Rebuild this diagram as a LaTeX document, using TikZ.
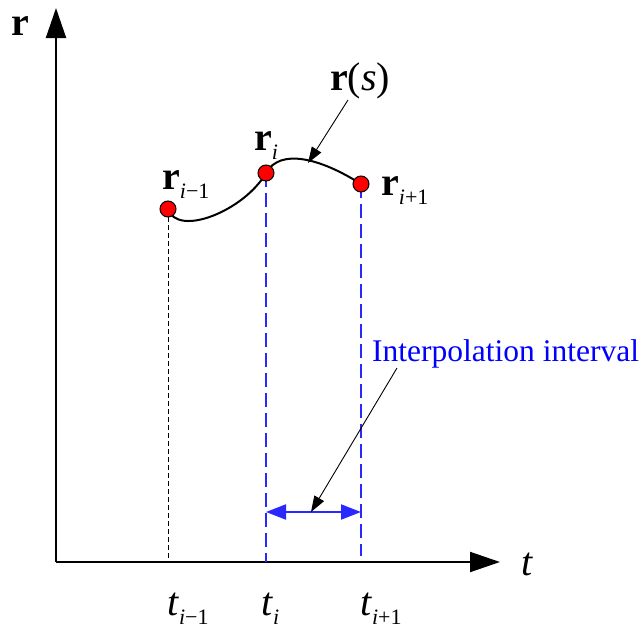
\documentclass[tikz,border=0pt]{standalone}
\usepackage{fontspec}
\setmainfont{Liberation Serif}
\usetikzlibrary{arrows.meta}
\definecolor{lineblue}{RGB}{40,40,255}
\definecolor{textblue}{RGB}{0,0,255}
\newcommand\mysub[1]{\raisebox{-0.24em}{\fontsize{22}{22}\selectfont #1}}
\begin{document}
\begin{tikzpicture}[x=1pt,y=-1pt,
  lbl/.style={inner sep=0pt,anchor=base west,font=\fontsize{40}{40}\selectfont},
  axis/.style={line width=2pt,-{Triangle[length=30pt,width=20pt]}},
  dot/.style={circle,fill=red,draw=black,line width=1pt,minimum size=16pt,inner sep=0pt},
  thinarrow/.style={line width=0.9pt,-{Triangle[length=16pt,width=11pt]}},
  bluedash/.style={lineblue,line width=2pt,dash pattern=on 14pt off 6pt},
  interval/.style={lineblue,line width=2pt,{Triangle[length=20pt,width=15pt]}-{Triangle[length=20pt,width=15pt]}}]
\useasboundingbox (0,0) rectangle (641,632);
% axes
\coordinate (O) at (56,562);
\coordinate (Ytop) at (56,8);
\coordinate (Xend) at (500,562);
\draw[axis] (O) -- (Ytop);
\draw[axis] (O) -- (Xend);
% points
\coordinate (p1) at (168,209);
\coordinate (p2) at (266,173);
\coordinate (p3) at (361,184);
% projection lines
\coordinate (b1) at (168,562);
\coordinate (b2) at (266,562);
\coordinate (b3) at (361,556);
\draw[black,line width=0.7pt,dash pattern=on 5pt off 3pt] (p1) -- (b1);
\draw[bluedash] (p2) -- (b2);
\draw[bluedash] (p3) -- (b3);
% curve
\draw[line width=2pt] (p1) .. controls (178,238) and (245,210) .. (p2)
   .. controls (280,148) and (320,158) .. (p3);
\node[dot] (d1) at (p1) {};
\node[dot] (d2) at (p2) {};
\node[dot] (d3) at (p3) {};
% interval arrow
\coordinate (i1) at (266,512);
\coordinate (i2) at (361,512);
\draw[interval] (i1) -- (i2);
\coordinate (imid) at (311,512);
% labels
\node[lbl] (rax) at (11,35) {\textbf{r}};
\node[lbl] (tax) at (521,575) {\textit{t}};
\node[lbl] (rs) at (330,90) {\textbf{r}(\textit{s})};
\node[lbl] (ri) at (254,150) {\textbf{r}\mysub{\textit{i}}};
\node[lbl] (rim) at (162,189) {\textbf{r}\mysub{\textit{i}−1}};
\node[lbl] (rip) at (381,195) {\textbf{r}\mysub{\textit{i}+1}};
\node[lbl] (tim) at (167,615) {\textit{t}\mysub{\textit{i}−1}};
\node[lbl] (ti) at (261,615) {\textit{t}\mysub{\textit{i}}};
\node[lbl] (tip) at (360,615) {\textit{t}\mysub{\textit{i}+1}};
\node[inner sep=0pt,anchor=base west,text=textblue,font=\fontsize{31.5}{31.5}\selectfont] (intlbl) at (372,361) {Interpolation interval};
% annotation arrows
\coordinate (rsfrom) at (348,100);
\coordinate (rsto) at (308,163);
\draw[thinarrow] (rsfrom) -- (rsto);
\coordinate (intfrom) at (397,368);
\draw[thinarrow] (intfrom) -- (imid);
\end{tikzpicture}
\end{document}
